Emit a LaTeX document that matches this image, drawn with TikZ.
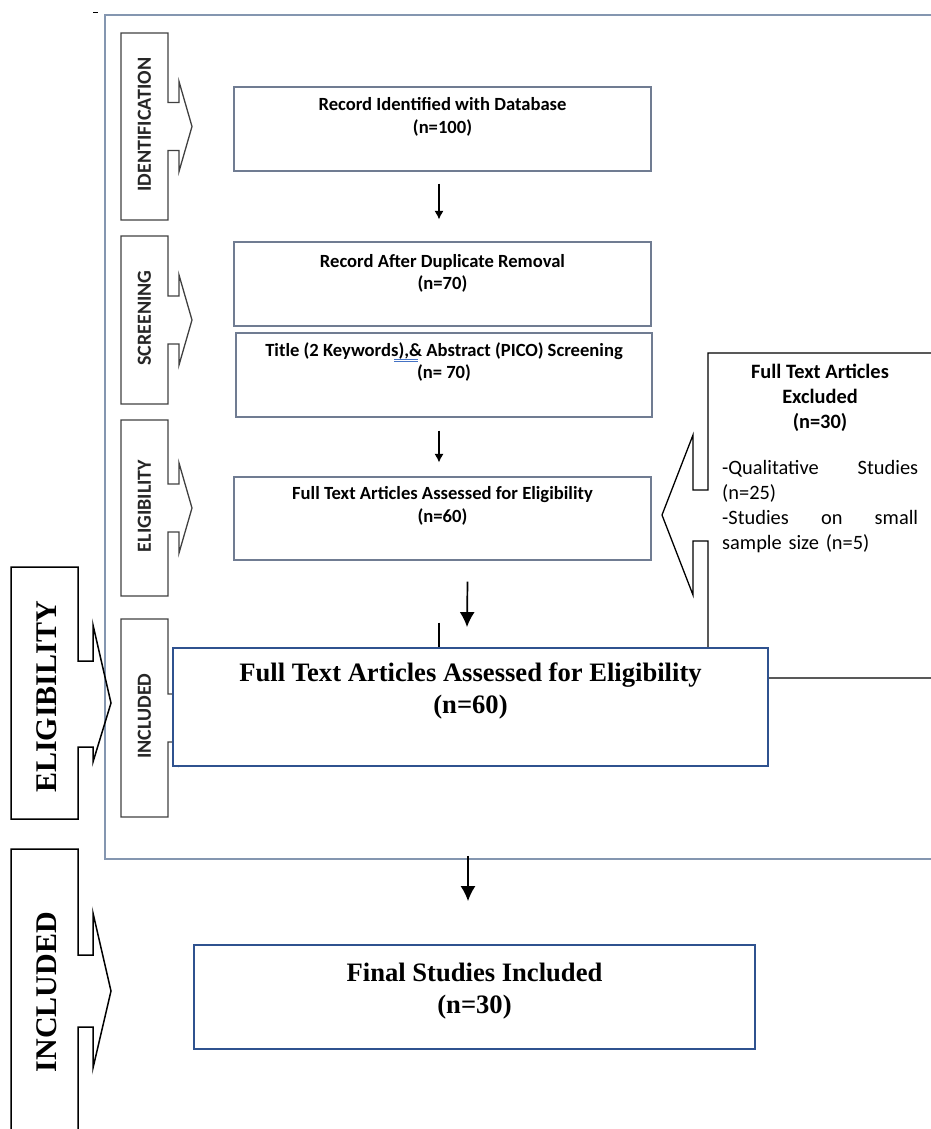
\documentclass[tikz,border=0pt]{standalone}
\usepackage{fontspec}
\setmainfont{Liberation Serif}
\newfontfamily\calibri{Carlito}
\usepackage{tikz}
\usetikzlibrary{arrows.meta}

\definecolor{framegray}{RGB}{132,150,176}
\definecolor{boxgray}{RGB}{112,124,146}
\definecolor{tabgray}{RGB}{64,64,64}
\definecolor{boxblue}{RGB}{47,82,143}
\definecolor{spellblue}{RGB}{68,114,196}

\begin{document}
\begin{tikzpicture}[x=1pt, y=-1pt, >=latex,
  smallbox/.style={draw=boxgray, line width=1.2pt, inner sep=0pt},
  bigbox/.style={draw=boxblue, line width=1.8pt, fill=white, inner sep=0pt},
  smalltext/.style={font=\calibri\bfseries\fontsize{18.6}{22.5}\selectfont, align=center, inner sep=0pt},
  sidetext/.style={font=\calibri\fontsize{20.4}{25}\selectfont, inner sep=0pt},
  bigtext/.style={font=\bfseries\fontsize{26.6}{32}\selectfont, align=center, inner sep=0pt},
  tabtext/.style={font=\calibri\bfseries\fontsize{20}{24}\selectfont, rotate=90, inner sep=0pt},
  outertab/.style={font=\bfseries\fontsize{30}{34}\selectfont, rotate=90, inner sep=0pt},
  thinarrow/.style={-{Latex[length=8.5pt,width=9pt]}, line width=1.1pt},
  thickarrow/.style={-{Latex[length=15pt,width=15pt]}, line width=1.7pt}]
  \useasboundingbox (0,0) rectangle (931,1129);
  \clip (0,0) rectangle (931,1129);

  % Pasted screenshot: grey frame, open to the right
  \draw[line width=1.4pt, framegray] (945,15) -- (105,15) -- (105,859) -- (945,859);
  \draw[line width=1pt] (93,13) -- (98,13);

  % Stage tabs inside the frame
  \foreach \top/\bot/\mid/\lbl in {33/220/126.5/IDENTIFICATION, 236/404/320/SCREENING,
                                   420/596/508/ELIGIBILITY, 619/817/718/INCLUDED} {
    \draw[line width=1.3pt, tabgray] (168,\top) -- (121,\top) -- (121,\bot) -- (168,\bot)
      -- (168,{\mid+24}) -- (179,{\mid+24}) -- (179,{\mid+45}) -- (192,\mid)
      -- (179,{\mid-45}) -- (179,{\mid-24}) -- (168,{\mid-24}) -- cycle;
    \node[tabtext, text=black!85] (tab-\lbl) at (144.5,{\mid-2}) {\lbl};
  }

  % Screening flow boxes
  \node[smallbox, minimum width=417, minimum height=84] (ident) at (442.5,129) {};
  \node[smalltext] (ident-txt) at ([yshift=12pt]ident.center) {Record Identified with Database\\(n=100)};
  \node[smallbox, minimum width=417, minimum height=84] (dup) at (442.5,284) {};
  \node[smalltext] (dup-txt) at ([yshift=10.5pt]dup.center) {Record After Duplicate Removal\\(n=70)};
  \node[smallbox, minimum width=416, minimum height=84] (title) at (444,375) {};
  \node[smalltext] (title-txt) at ([yshift=13pt]title.center) {Title (2 Keywords),\& Abstract (PICO) Screening\\(n= 70)};
  \node[smallbox, minimum width=417, minimum height=83] (elig) at (442.5,518.5) {};
  \node[smalltext] (elig-txt) at ([yshift=12.5pt]elig.center) {Full Text Articles Assessed for Eligibility\\(n=60)};

  % spell check underline under ",&"
  \draw[spellblue, line width=0.8pt] (394,359) -- (418,359);
  \draw[spellblue, line width=0.8pt] (394,361.5) -- (418,361.5);

  \draw[thinarrow] ([xshift=-3.5pt,yshift=-12pt]ident.south) -- ([xshift=-3.5pt,yshift=22pt]dup.north);
  \draw[thinarrow] ([xshift=-5pt,yshift=-13pt]title.south) -- ([xshift=-3.5pt,yshift=14pt]elig.north);
  \draw[thinarrow] ([xshift=-3.5pt,yshift=-62pt]elig.south) -- ([xshift=-3.5pt,yshift=-100pt]elig.south);

  % Excluded callout, pointing left
  \draw[line width=1.3pt] (945,353) -- (708,353) -- (708,490) -- (693,490) -- (693,435)
    -- (662,515) -- (693,595) -- (693,541) -- (708,541) -- (708,678) -- (945,678);
  \node[sidetext, font=\calibri\bfseries\fontsize{20.4}{25}\selectfont, align=center] (excl) at (820,398)
    {Full Text Articles\\Excluded\\(n=30)};
  \node[sidetext, text width=196pt, align=left, anchor=north west] (reasons) at (722,460)
    {-Qualitative\hfill Studies\\(n=25)\\-Studies\hfill on\hfill small\\sample size (n=5)};

  % Overlaid stage tabs
  \draw[line width=1.5pt] (78,567) -- (11,567) -- (11,819) -- (78,819) -- (78,747) -- (93,747)
    -- (93,762) -- (111,703) -- (93,625) -- (93,661) -- (78,661) -- cycle;
  \node[outertab] (eligibility) at (47,697) {ELIGIBILITY};
  \draw[line width=1.5pt] (78,1140) -- (78,1027) -- (93,1027) -- (93,1068) -- (111,991)
    -- (93,913) -- (93,955) -- (78,955) -- (78,849) -- (11,849) -- (11,1140);
  \node[outertab] (included) at (47,992) {INCLUDED};

  % Overlaid flow boxes
  \node[bigbox, minimum width=595, minimum height=118] (full) at (470.5,707) {};
  \node[bigtext] (full-txt) at ([yshift=16pt]full.center) {Full Text Articles Assessed for Eligibility\\(n=60)};
  \node[bigbox, minimum width=561, minimum height=104] (final) at (474.5,997) {};
  \node[bigtext] (final-txt) at ([yshift=6pt]final.center) {Final Studies Included\\(n=30)};

  \draw[thickarrow] ([xshift=25pt,yshift=-21pt]elig.south) -- ([xshift=-3.5pt,yshift=20pt]full.north);
  \draw[thickarrow] ([xshift=-2.5pt,yshift=-89pt]full.south) -- ([xshift=-6.5pt,yshift=43pt]final.north);
\end{tikzpicture}
\end{document}
